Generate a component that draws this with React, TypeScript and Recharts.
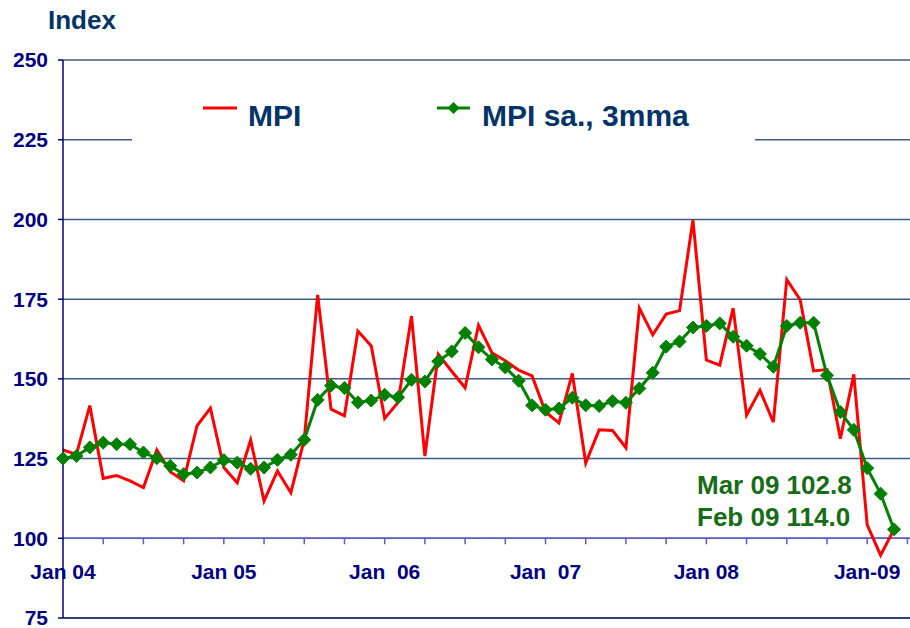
import React from 'react';
import { LineChart, Line, XAxis, YAxis, CartesianGrid, ReferenceLine, Legend } from 'recharts';

const monthNames = ['Jan', 'Feb', 'Mar', 'Apr', 'May', 'Jun', 'Jul', 'Aug', 'Sep', 'Oct', 'Nov', 'Dec'];
const years = ['04', '05', '06', '07', '08', '09'];

// Jan 04 .. Mar 09
const months: string[] = years
  .flatMap((y) => monthNames.map((m) => `${m} ${y}`))
  .slice(0, 63);

const mpi = [
  127.7, 126.3, 141.6, 118.8, 119.7, 118.0, 115.9, 127.7, 120.9, 118.0, 135.3, 140.8,
  122.2, 117.4, 130.8, 111.7, 121.1, 114.3, 131.0, 176.3, 140.5, 138.4, 165.0, 160.3,
  137.6, 142.6, 169.7, 125.8, 157.7, 152.4, 147.2, 166.8, 158.2, 155.7, 152.7, 150.9,
  139.6, 136.2, 151.7, 123.6, 134.0, 133.8, 128.4, 172.2, 163.8, 170.3, 171.4, 199.8,
  155.9, 154.3, 172.2, 138.6, 146.4, 136.4, 181.1, 174.8, 152.5, 152.9, 131.2, 151.4,
  104.2, 94.7, 102.8,
];

const mpiSa3mma = [
  125.0, 125.8, 128.5, 130.0, 129.5, 129.5, 126.9, 125.1, 122.7, 120.1, 120.6, 122.2,
  124.5, 123.7, 121.8, 122.2, 124.6, 126.2, 130.9, 143.4, 147.9, 147.1, 142.6, 143.2,
  145.0, 144.2, 149.7, 149.2, 155.5, 158.6, 164.4, 159.9, 156.1, 153.6, 149.4, 141.7,
  140.3, 140.7, 144.1, 141.7, 141.5, 143.0, 142.5, 147.0, 151.9, 160.1, 161.7, 166.1,
  166.6, 167.4, 163.2, 160.4, 157.8, 153.8, 166.6, 167.6, 167.6, 151.1, 139.6, 134.0,
  122.0, 114.0, 102.8,
];

const janIndex = [0, 12, 24, 36, 48, 60];
const janLabels = ['Jan 04', 'Jan 05', 'Jan  06', 'Jan  07', 'Jan 08', 'Jan-09'];
const yTicks = [75, 100, 125, 150, 175, 200, 225, 250];

const data = months.map((m, i) => ({ month: m, mpi: mpi[i], sa: mpiSa3mma[i] }));

const FONT = '"Liberation Sans", Arial, sans-serif';
const W = 910;
const H = 628;
const PLOT_TOP = 60;
const PLOT_BOTTOM = 618;
const PLOT_LEFT = 63;
const PAD_RIGHT = 16;
const Y_MIN = 75;
const Y_MAX = 250;
const AXIS_Y = PLOT_TOP + ((Y_MAX - 100) / (Y_MAX - Y_MIN)) * (PLOT_BOTTOM - PLOT_TOP);
const STEP = (W - PLOT_LEFT - PAD_RIGHT) / (months.length - 1);

const MonthTick = (props: any) => {
  const { x, payload } = props;
  const index = payload && payload.index != null ? payload.index : props.index;
  const j = janIndex.indexOf(index);
  const last = index === months.length - 1;
  return (
    <g>
      {index % 3 === 0 && index > 0 && (
        <line x1={x} x2={x} y1={AXIS_Y} y2={AXIS_Y + 6} stroke="#5a5ac8" strokeWidth={1.5} />
      )}
      {last && (
        <line x1={x + STEP} x2={x + STEP} y1={AXIS_Y} y2={AXIS_Y + 6} stroke="#5a5ac8" strokeWidth={1.5} />
      )}
      {j >= 0 && (
        <text
          x={x}
          y={AXIS_Y + 41}
          textAnchor="middle"
          fill="#000080"
          fontSize={21}
          fontWeight="bold"
          fontFamily={FONT}
          style={{ whiteSpace: 'pre' }}
        >
          {janLabels[j]}
        </text>
      )}
    </g>
  );
};

const Diamond = (props: any) => {
  const { cx, cy } = props;
  if (cx == null || cy == null) return <g />;
  const r = 6.5;
  return (
    <polygon
      points={`${cx},${cy - r} ${cx + r},${cy} ${cx},${cy + r} ${cx - r},${cy}`}
      fill="#008000"
      stroke="#008000"
    />
  );
};

const LegendBox = () => (
  <svg width={623} height={84}>
    <line x1={71} x2={105} y1={42} y2={42} stroke="#ff0000" strokeWidth={3} />
    <text x={116} y={60} fill="#003366" fontSize={30} fontWeight="bold" fontFamily={FONT}>
      MPI
    </text>
    <line x1={305} x2={338} y1={42} y2={42} stroke="#008000" strokeWidth={3} />
    <polygon points="321.5,36 327.5,42 321.5,48 315.5,42" fill="#008000" />
    <text x={350} y={60} fill="#003366" fontSize={30} fontWeight="bold" fontFamily={FONT}>
      MPI sa., 3mma
    </text>
  </svg>
);

const App: React.FC = () => {
  return (
    <div style={{ position: 'absolute', left: 0, top: 0, width: W, height: H, background: '#fff' }}>
      <LineChart
        width={W}
        height={H}
        data={data}
        margin={{ top: PLOT_TOP, right: 0, left: 0, bottom: 0 }}
      >
        <CartesianGrid vertical={false} stroke="#3d5b84" strokeWidth={1.5} />
        <XAxis
          dataKey="month"
          type="category"
          interval={0}
          height={H - PLOT_BOTTOM}
          padding={{ left: 0, right: PAD_RIGHT }}
          axisLine={{ stroke: '#1c2c6c', strokeWidth: 1.5 }}
          tickLine={false}
          tick={<MonthTick />}
        />
        <YAxis
          domain={[Y_MIN, Y_MAX]}
          ticks={yTicks}
          interval={0}
          width={PLOT_LEFT}
          axisLine={{ stroke: '#000080', strokeWidth: 1.5 }}
          tickLine={{ stroke: '#000080', strokeWidth: 1.5 }}
          tickSize={5}
          tickMargin={10}
          tick={{ fill: '#000080', fontSize: 21, fontWeight: 'bold', fontFamily: FONT }}
        />
        <ReferenceLine y={100} stroke="#5a5ac8" strokeWidth={1.5} />
        <Legend
          verticalAlign="middle"
          align="center"
          layout="horizontal"
          wrapperStyle={{ left: 132, top: 66, width: 623, height: 84, background: '#fff' }}
          content={() => <LegendBox />}
        />
        <Line
          dataKey="mpi"
          name="MPI"
          stroke="#ff0000"
          strokeWidth={3}
          dot={false}
          activeDot={false}
          isAnimationActive={false}
        />
        <Line
          dataKey="sa"
          name="MPI sa., 3mma"
          stroke="#008000"
          strokeWidth={3}
          dot={<Diamond />}
          activeDot={false}
          isAnimationActive={false}
        />
      </LineChart>
      <svg
        width={W}
        height={H}
        style={{ position: 'absolute', left: 0, top: 0, pointerEvents: 'none' }}
      >
        <text x={48} y={29} fill="#003366" fontSize={26} fontWeight="bold" fontFamily={FONT}>
          Index
        </text>
        <text x={697} y={494} fill="#176c17" fontSize={26} fontWeight="bold" fontFamily={FONT}>
          Mar 09 102.8
        </text>
        <text x={697} y={526} fill="#176c17" fontSize={26} fontWeight="bold" fontFamily={FONT}>
          Feb 09 114.0
        </text>
      </svg>
    </div>
  );
};

export default App;
